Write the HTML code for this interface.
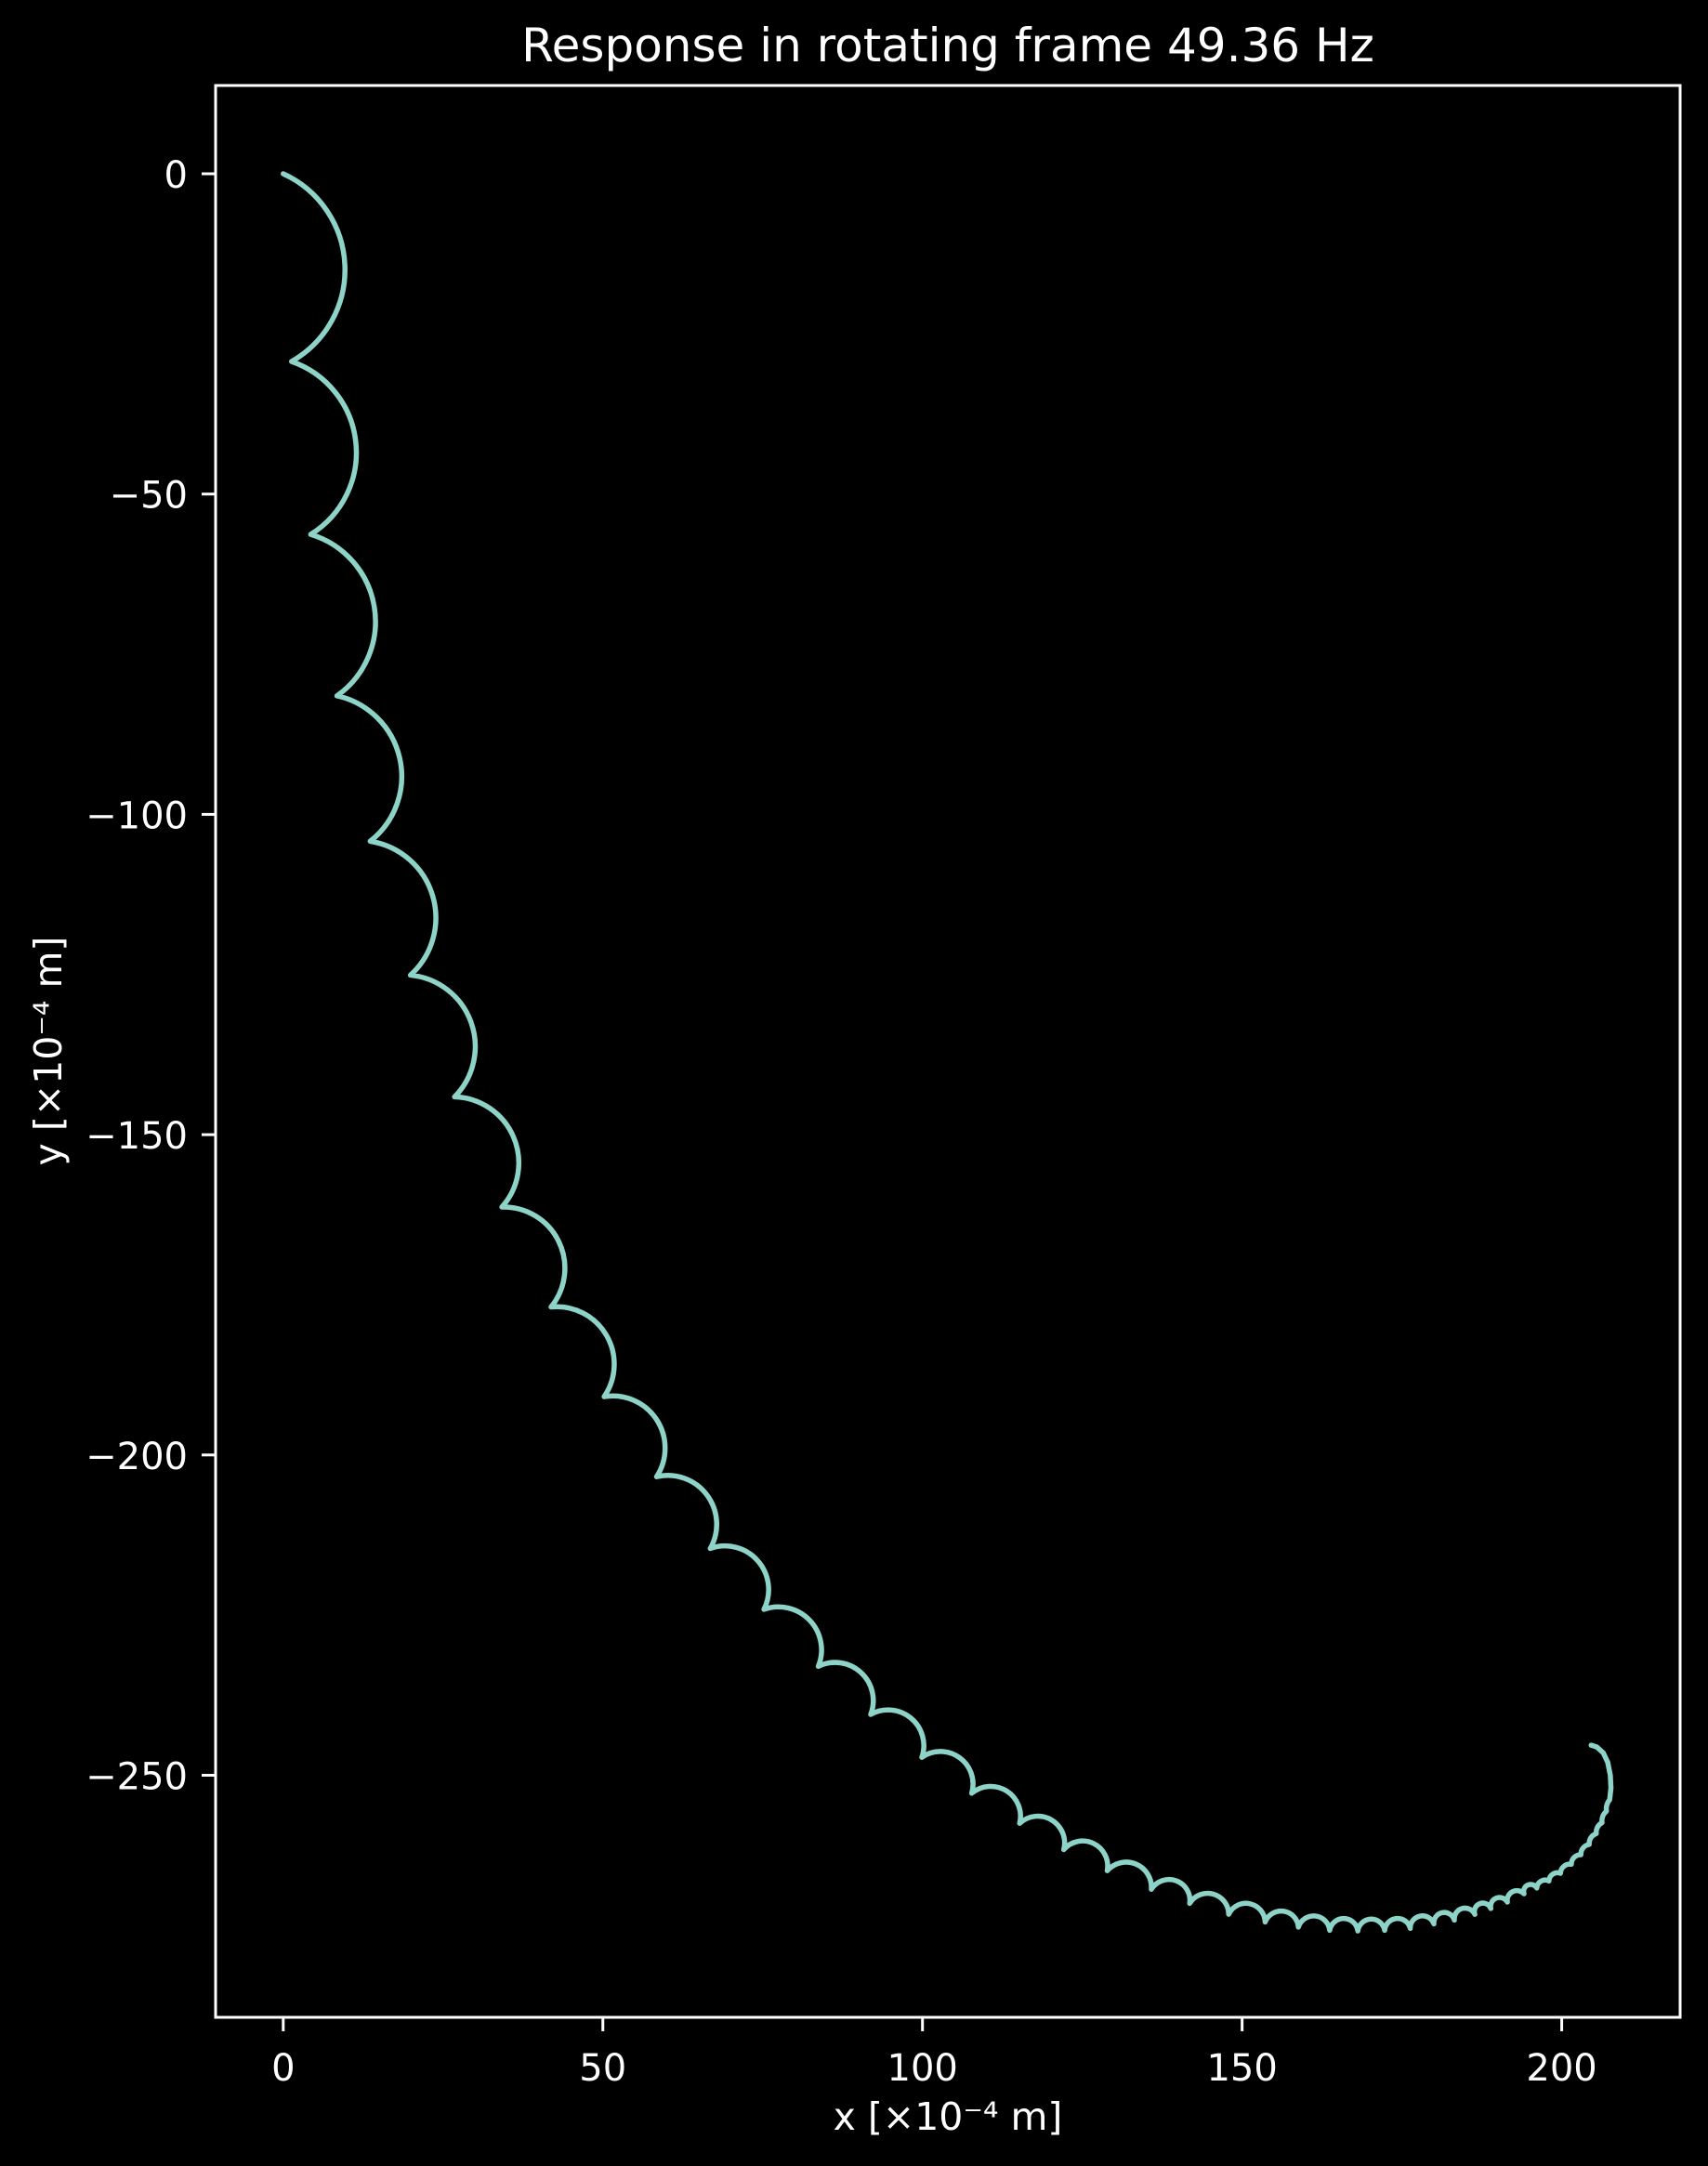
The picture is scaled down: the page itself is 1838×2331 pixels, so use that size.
<!DOCTYPE html>
<html><head><meta charset="utf-8"><style>
html,body{margin:0;padding:0;background:#000;}
svg{display:block;}
text{font-family:"DejaVu Sans","Liberation Sans",sans-serif;fill:#fff;}
</style></head><body>
<svg id="chart" width="1838" height="2331" viewBox="0 0 1838 2331" xmlns="http://www.w3.org/2000/svg">
<rect x="0" y="0" width="1838" height="2331" fill="#000"/>
<text x="1020" y="66" font-size="50" text-anchor="middle">Response in rotating frame 49.36 Hz</text>
<g id="axes"></g>
<path id="curve" fill="none" stroke="#8dd3c7" stroke-width="5.5" stroke-linejoin="round" stroke-linecap="round"/>
<rect x="232" y="92" width="1576" height="2079" fill="none" stroke="#fff" stroke-width="3"/>
<text x="1020" y="2292" font-size="41" text-anchor="middle">x [×10⁻⁴ m]</text>
<text x="66" y="1131" font-size="41" text-anchor="middle" transform="rotate(-90 66 1131)">y [×10⁻⁴ m]</text>
</svg>
<script>
// cusp points of the trajectory (data units ×1e-4 m)
const cuspX = [0,1.3,4.3,8.4,13.6,19.9,26.8,34.2,41.9,50.2,58.4,66.8,75.2,83.7,91.9,99.9,107.7,115.2,122.1,128.9,135.8,141.8,147.9,153.6,158.8,163.7,168.1,172.3,176.3,180,183.2,186.4,188.9,191.5,194.1,196.1,198,199.8,201.5,203,204.3,205.4,206.3,207,207.5,207.7,207.6,207.2,206.5,205.5,204.6];
const cuspY = [0,-29.3,-56.3,-81.5,-104.2,-125.1,-144.1,-161.3,-176.9,-190.9,-203.4,-214.6,-224.1,-233,-240.5,-247.2,-252.8,-257.5,-261.6,-264.9,-267.8,-270,-271.7,-272.9,-273.7,-274.2,-274.3,-274.2,-273.9,-273.2,-272.6,-271.7,-270.8,-269.8,-268.5,-267.6,-266.5,-265.3,-263.9,-262.4,-260.8,-259.1,-257.4,-255.6,-253.8,-252,-250,-248,-246.5,-245.6,-245.3];
// arc bulge (sagitta) of each loop between consecutive cusps (data units)
const bulge = [9,8.6,8.0,7.4,6.9,6.4,6.0,5.6,5.2,4.9,4.6,4.3,4.0,3.8,3.6,3.4,3.2,3.0,2.9,2.7,2.6,2.4,2.3,2.1,2.0,1.9,1.8,1.7,1.6,1.5,1.4,1.3,1.2,1.1,1.0,0.6,0.55,0.5,0.45,0.4,0.35,0.3,0.25,0.2,0,0,0,0,0,0];
const xTicks = [0,50,100,150,200];
const yTicks = [0,-50,-100,-150,-200,-250];

const X0 = 304.8, KX = 6.879, Y0 = 187, KY = 6.894;
function sx(v){ return X0 + KX*v; }
function sy(v){ return Y0 - KY*v; }

const axes = document.getElementById('axes');
const NS = 'http://www.w3.org/2000/svg';
xTicks.forEach(function(t){
  const l = document.createElementNS(NS,'line');
  l.setAttribute('x1',sx(t)); l.setAttribute('x2',sx(t));
  l.setAttribute('y1',2171); l.setAttribute('y2',2186);
  l.setAttribute('stroke','#fff'); l.setAttribute('stroke-width','3');
  
  
  axes.appendChild(l);
  const tx = document.createElementNS(NS,'text');
  tx.setAttribute('x',sx(t)); tx.setAttribute('y',2239);
  tx.setAttribute('font-size','40'); tx.setAttribute('text-anchor','middle');
  tx.textContent = String(t);
  
  
  axes.appendChild(tx);
});
yTicks.forEach(function(t){
  const l = document.createElementNS(NS,'line');
  l.setAttribute('x1',217); l.setAttribute('x2',232);
  l.setAttribute('y1',sy(t)); l.setAttribute('y2',sy(t));
  l.setAttribute('stroke','#fff'); l.setAttribute('stroke-width','3');
  
  
  axes.appendChild(l);
  const tx = document.createElementNS(NS,'text');
  tx.setAttribute('x',202); tx.setAttribute('y',sy(t)+15);
  tx.setAttribute('font-size','40'); tx.setAttribute('text-anchor','end');
  tx.textContent = t < 0 ? '\u2212' + Math.abs(t) : String(t);
  
  
  axes.appendChild(tx);
});

let d = 'M' + sx(cuspX[0]).toFixed(2) + ' ' + sy(cuspY[0]).toFixed(2);
for (let i = 1; i < cuspX.length; i++) {
  const x1 = sx(cuspX[i-1]), y1 = sy(cuspY[i-1]);
  const x2 = sx(cuspX[i]), y2 = sy(cuspY[i]);
  const c = Math.hypot(x2-x1, y2-y1);
  const s = (bulge[i-1] || 0) * KX;
  if (s <= 0.01 || c < 0.01) {
    d += ' L' + x2.toFixed(2) + ' ' + y2.toFixed(2);
  } else {
    const r = (c*c/4 + s*s) / (2*s);
    const large = s > c/2 ? 1 : 0;
    d += ' A' + r.toFixed(2) + ' ' + r.toFixed(2) + ' 0 ' + large + ' 1 ' + x2.toFixed(2) + ' ' + y2.toFixed(2);
  }
}
document.getElementById('curve').setAttribute('d', d);
</script>
</body></html>
